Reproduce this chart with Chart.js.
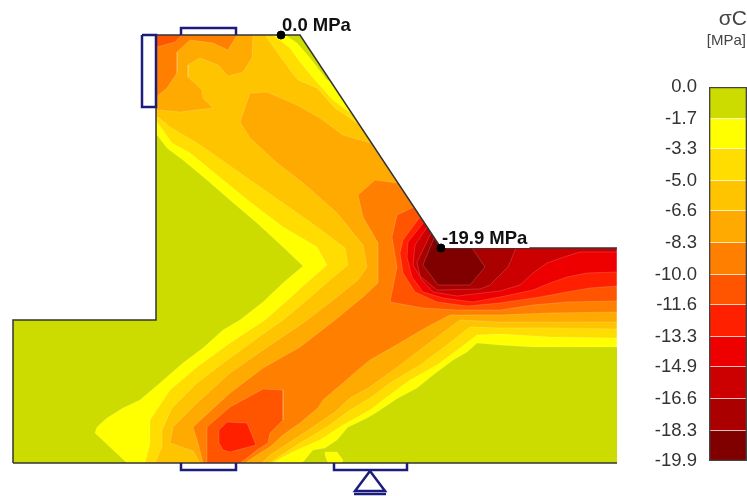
<!DOCTYPE html>
<html>
<head>
<meta charset="utf-8">
<title>Stress contour</title>
<script src="https://cdn.jsdelivr.net/npm/chart.js@4"></script>
<style>
    html, body { margin: 0; padding: 0; background: #fff; }
    #wrap { position: relative; width: 747px; height: 496px; overflow: hidden; }
    canvas { position: absolute; filter: blur(0.45px); }
</style>
</head>
<body>
<div id="wrap">
    <canvas id="sectionChart" width="747" height="496" style="left:0;top:0"></canvas>
    <canvas id="scaleChart" width="107" height="410" style="left:640px;top:70px"></canvas>
</div>
<script>
// Scale bar
const scaleTicks = [0.0, -1.7, -3.3, -5.0, -6.6, -8.3, -10.0, -11.6, -13.3, -14.9, -16.6, -18.3, -19.9];
const bandColors = ['#ccdc00', '#ffff00', '#ffdd00', '#ffc400', '#ffaa00', '#ff8000',
    '#ff5500', '#ff2000', '#ee0000', '#cc0000', '#aa0000', '#800000'];

// Contour regions, one list per stress level (section units)
const sectionShape = [[13,463],[13,320],[156,320],[156,35],[300,35],[441,248],[617,248],[617,463]];
const below1_7 = [[156,35],[285,35],[297,43],[310,58],[327,80],[331,82],[441,248],[617,248],[617,347],[533,347],[500,345],[477,343],[467,352],[453,360],[433,375],[417,388],[398,398],[377,412],[367,418],[348,427],[337,440],[325,448],[313,450],[302,463],[127,463],[110,447],[95,433],[97,427],[107,418],[123,408],[140,400],[160,383],[183,363],[203,348],[223,330],[240,320],[263,302],[283,283],[303,266],[283,247],[257,223],[230,200],[207,180],[183,160],[167,148],[157,135],[156,135]];
const below1_7Spot = [[325,452],[337,452],[343,460],[342,463],[328,463],[325,455]];
const below3_3 = [[156,35],[273,35],[290,48],[300,62],[315,80],[333,100],[352,114],[441,248],[617,248],[617,338],[550,337],[500,334],[477,335],[460,348],[437,365],[410,380],[387,397],[370,410],[343,425],[320,440],[297,450],[283,457],[273,463],[145,463],[150,443],[150,420],[170,390],[197,367],[230,343],[265,320],[290,298],[303,286],[327,265],[317,247],[283,227],[250,202],[217,175],[190,153],[172,143],[157,122],[156,122]];
const below5_0 = [[156,35],[265,35],[277,52],[290,70],[298,80],[317,88],[335,108],[360,125],[441,248],[617,248],[617,329],[550,328],[500,328],[470,327],[447,345],[420,365],[390,383],[370,398],[350,410],[327,427],[300,443],[277,458],[270,463],[155,463],[162,447],[162,430],[172,408],[197,383],[230,358],[263,334],[283,320],[307,300],[330,280],[348,265],[345,248],[317,227],[283,203],[240,173],[200,145],[170,127],[158,117],[156,117]];
const below6_6 = [[371,143],[441,248],[617,248],[617,322],[500,322],[460,320],[433,340],[403,363],[370,387],[350,398],[335,412],[313,427],[290,442],[270,455],[262,463],[200,463],[193,451],[170,443],[173,427],[197,403],[230,373],[263,350],[300,325],[307,320],[337,297],[358,280],[367,267],[363,245],[337,213],[303,183],[277,163],[250,138],[240,122],[250,93],[267,92],[297,105],[320,118],[343,135]];
const below6_6Top = [[156,35],[253,35],[252,58],[243,72],[228,76],[218,65],[200,58],[188,65],[188,77],[202,90],[203,98],[213,108],[180,112],[158,110],[156,110]];
const below8_3 = [[398,183],[441,248],[617,248],[617,312],[550,313],[500,315],[450,315],[427,327],[393,347],[370,360],[358,370],[343,383],[323,400],[318,408],[300,423],[283,435],[270,447],[257,455],[245,463],[203,463],[198,443],[193,427],[230,393],[263,368],[300,347],[335,320],[363,297],[378,283],[378,243],[363,217],[358,195],[375,180]];
const below8_3Top = [[156,35],[237,35],[228,50],[213,43],[190,40],[177,52],[177,73],[167,88],[156,97]];
const below10_0 = [[414,207],[441,248],[617,248],[617,301],[567,302],[533,305],[500,310],[457,310],[423,308],[390,302],[397,267],[392,237],[397,215]];
const below10_0Top = [[156,35],[182,35],[175,42],[157,47],[156,47]];
const below10_0Foot = [[207,427],[230,407],[263,389],[283,390],[283,420],[270,433],[268,443],[257,450],[247,458],[240,463],[207,463]];
const below11_6 = [[420,217],[441,248],[617,248],[617,286],[590,288],[567,292],[540,297],[500,303],[467,306],[437,302],[415,292],[403,273],[400,253],[403,240]];
const below11_6Foot = [[219,430],[227,422],[247,423],[256,445],[230,452],[223,450],[219,443]];
const below13_3 = [[424,222],[441,248],[617,248],[617,272],[587,273],[567,277],[550,283],[533,290],[500,297],[473,302],[443,298],[423,292],[412,277],[407,257],[408,242]];
const below14_9 = [[427,227],[441,248],[617,248],[617,252],[580,252],[567,256],[547,263],[533,273],[520,285],[500,291],[457,296],[433,292],[422,280],[413,265],[415,245]];
const below16_6 = [[431,233],[441,248],[516,248],[508,267],[490,285],[480,289],[437,290],[420,276],[417,262]];
const below18_3 = [[434,238],[441,248],[472,248],[485,267],[470,285],[438,285],[423,265]];

// Outline and supports
const outlineUpper = [[13,463],[13,320],[156,320],[156,35],[300,35],[441,248],[617,248]];
const outlineLower = [[13,463],[617,463]];
const supportLeft = [[142,35],[156,35],[156,107],[142,107],[142,35]];
const supportTop = [[181,35],[181,28],[236,28],[236,35]];
const supportBottom = [[181,463],[181,470],[236,470],[236,463]];
const supportRoller = [[334,463],[334,470],[407,470],[407,463]];
const rollerTriangle = [[370,471],[385,491],[355,491],[370,471]];
const rollerBase = [[354,494],[386,494]];

// Extreme value markers
const markerPoints = [[281,35],[441,248]];
const markerLabels = ['0.0 MPa', '-19.9 MPa'];

const regions = [
    [sectionShape, 0],
    [below1_7, 1], [below1_7Spot, 1],
    [below3_3, 2],
    [below5_0, 3],
    [below6_6, 4], [below6_6Top, 4],
    [below8_3, 5], [below8_3Top, 5],
    [below10_0, 6], [below10_0Top, 6], [below10_0Foot, 6],
    [below11_6, 7], [below11_6Foot, 7],
    [below13_3, 8],
    [below14_9, 9],
    [below16_6, 10],
    [below18_3, 11]
];

function toPoints(list) {
    return list.map(p => ({ x: p[0], y: p[1] }));
}

const datasets = [];

// Filled contours, lowest level first
regions.forEach(r => {
    const closed = r[0].concat([r[0][0]]);
    datasets.push({
        type: 'scatter',
        data: toPoints(closed),
        showLine: true,
        fill: 'shape',
        tension: 0,
        backgroundColor: bandColors[r[1]],
        borderColor: r[1] === 0 ? bandColors[0] : 'rgba(255,255,255,0.16)',
        borderWidth: r[1] === 0 ? 0 : 1,
        pointRadius: 0
    });
});

// Section outline
[outlineUpper, outlineLower].forEach(line => {
    datasets.push({
        type: 'scatter',
        data: toPoints(line),
        showLine: true,
        fill: false,
        tension: 0,
        borderColor: '#333333',
        borderWidth: 1.5,
        pointRadius: 0
    });
});

// Supports
[supportLeft, supportTop, supportBottom, supportRoller, rollerTriangle, rollerBase].forEach(line => {
    datasets.push({
        type: 'scatter',
        data: toPoints(line),
        showLine: true,
        fill: false,
        tension: 0,
        borderColor: '#1c1c7c',
        borderWidth: 2.5,
        pointRadius: 0
    });
});

// Extreme points
datasets.push({
    type: 'scatter',
    data: toPoints(markerPoints),
    showLine: false,
    backgroundColor: '#000000',
    borderColor: '#000000',
    pointRadius: 4
});

// later datasets go on top
datasets.forEach((d, i) => { d.order = datasets.length - i; });

const sectionText = {
    id: 'sectionText',
    afterDatasetsDraw(chart) {
        const c = chart.ctx;
        const xs = chart.scales.x;
        const ys = chart.scales.y;
        c.save();
        c.textBaseline = 'alphabetic';
        c.textAlign = 'left';
        c.font = 'bold 18.5px "Liberation Sans", Arial, sans-serif';

        // first label sits above the crest, second has a white box over the outline
        const px0 = xs.getPixelForValue(markerPoints[0][0]);
        const py0 = ys.getPixelForValue(markerPoints[0][1]);
        c.fillStyle = '#111111';
        c.fillText(markerLabels[0], px0 + 1, py0 - 4);

        const px1 = xs.getPixelForValue(markerPoints[1][0]);
        const py1 = ys.getPixelForValue(markerPoints[1][1]);
        const w = c.measureText(markerLabels[1]).width;
        c.fillStyle = '#ffffff';
        c.fillRect(px1 + 4, py1 - 17, w - 1, 17);
        c.fillStyle = '#111111';
        c.fillText(markerLabels[1], px1 + 1, py1 - 4);

        c.fillStyle = '#444444';
        c.textAlign = 'right';
        c.font = '21px "Liberation Sans", Arial, sans-serif';
        c.fillText('σC', 747, 25);
        c.font = '15px "Liberation Sans", Arial, sans-serif';
        c.fillText('[MPa]', 746, 45);
        c.restore();
    }
};

new Chart(document.getElementById('sectionChart'), {
    type: 'scatter',
    data: { datasets: datasets },
    plugins: [sectionText],
    options: {
        responsive: false,
        animation: false,
        layout: { padding: 0, autoPadding: false },
        plugins: {
            legend: { display: false },
            tooltip: { enabled: false }
        },
        scales: {
            x: { type: 'linear', display: false, min: 0, max: 747 },
            y: { type: 'linear', display: false, min: 0, max: 496, reverse: true }
        }
    }
});

// Scale bar: one floating bar per band, then a frame on top
const scaleDatasets = bandColors.map((color, i) => ({
    data: [[scaleTicks[i + 1], scaleTicks[i]]],
    backgroundColor: color,
    borderColor: 'rgba(255,255,255,0.16)',
    borderWidth: { top: 0, right: 0, bottom: 1, left: 0 },
    borderSkipped: false,
    barPercentage: 1,
    categoryPercentage: 1,
    grouped: false,
    order: 2
}));
scaleDatasets.push({
    data: [[scaleTicks[scaleTicks.length - 1], scaleTicks[0]]],
    backgroundColor: 'rgba(0,0,0,0)',
    borderColor: '#444444',
    borderWidth: 1,
    borderSkipped: false,
    barPercentage: 1,
    categoryPercentage: 1,
    grouped: false,
    order: 1
});

new Chart(document.getElementById('scaleChart'), {
    type: 'bar',
    data: { labels: [''], datasets: scaleDatasets },
    options: {
        responsive: false,
        animation: false,
        layout: { padding: { top: 17, bottom: 19, left: 0, right: 0 }, autoPadding: false },
        plugins: {
            legend: { display: false },
            tooltip: { enabled: false }
        },
        scales: {
            x: { display: false, stacked: false },
            y: {
                min: -19.9,
                max: 0,
                grid: { display: false, drawTicks: false },
                border: { display: false },
                afterBuildTicks: axis => { axis.ticks = scaleTicks.map(v => ({ value: v })); },
                afterFit: axis => {
                    axis.width = 69;
                    // plot area should follow the padding above, not the label height
                    axis.paddingTop = 0;
                    axis.paddingBottom = 0;
                },
                ticks: {
                    autoSkip: false,
                    padding: 12,
                    color: '#333333',
                    font: { family: '"Liberation Sans", Arial, sans-serif', size: 18.5 },
                    callback: v => Number(v).toFixed(1)
                }
            }
        }
    }
});
</script>
</body>
</html>
